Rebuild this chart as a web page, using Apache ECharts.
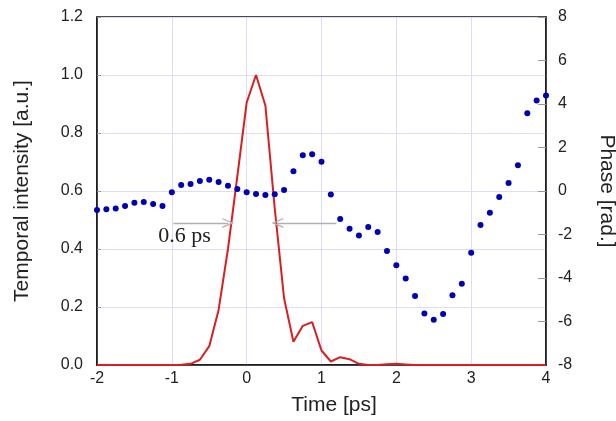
<!DOCTYPE html>
<html><head><meta charset="utf-8">
<script src="https://cdn.jsdelivr.net/npm/echarts@6.0.0/dist/echarts.min.js"></script>
<style>html,body{margin:0;padding:0;background:#fff}#c{width:616px;height:421px}</style>
</head><body><div id="c"></div>
<script>
const time = [-2,-1.875,-1.75,-1.625,-1.5,-1.375,-1.25,-1.125,-1,-0.875,-0.75,-0.625,-0.5,-0.375,-0.25,-0.125,0,0.125,0.25,0.375,0.5,0.625,0.75,0.875,1,1.125,1.25,1.375,1.5,1.625,1.75,1.875,2,2.125,2.25,2.375,2.5,2.625,2.75,2.875,3,3.125,3.25,3.375,3.5,3.625,3.75,3.875,4];
const intensity = [0,0,0,0,0,0,0,0,0,0.001,0.004,0.018,0.065,0.19,0.40,0.65,0.905,1.0,0.895,0.54,0.23,0.08,0.135,0.148,0.05,0.012,0.027,0.02,0.004,0,0,0.003,0.004,0.002,0,0,0,0,0,0,0,0,0,0,0,0,0,0,0];
const phase = [-0.87,-0.84,-0.81,-0.69,-0.54,-0.51,-0.60,-0.69,-0.06,0.28,0.32,0.46,0.52,0.41,0.24,0.09,-0.06,-0.14,-0.18,-0.15,0.05,0.91,1.64,1.69,1.35,-0.16,-1.29,-1.73,-2.05,-1.66,-1.89,-2.76,-3.41,-4.02,-4.83,-5.63,-5.92,-5.65,-4.79,-4.27,-2.84,-1.56,-1.0,-0.28,0.37,1.18,3.57,4.16,4.39];
const fwhmLabel = '0.6 ps';

const chart = echarts.init(document.getElementById('c'), null, {renderer:'canvas'});
const sans = 'Liberation Sans, Arial, sans-serif';
const gridColor = '#dcdcf2';
const chevron = 'path://M0,12 L5,0 L10,12 L8.6,12 L5,3.2 L1.4,12 Z';
chart.setOption({
  animation:false,
  backgroundColor:'#fff',
  grid:{left:97, right:70, top:17, bottom:56, containLabel:false, outerBoundsMode:'none',
    show:true, borderColor:'#111', borderWidth:1.5, backgroundColor:'transparent'},
  xAxis:{type:'value', min:-2, max:4, interval:1,
    axisLine:{show:true, onZero:false, lineStyle:{color:'#111', width:1.5}},
    axisTick:{show:false},
    axisLabel:{fontFamily:sans, fontSize:16, color:'#222', margin:6},
    splitLine:{show:true, lineStyle:{color:gridColor, width:1}},
    name:'Time [ps]', nameLocation:'middle', nameGap:30,
    nameTextStyle:{fontFamily:sans, fontSize:21, color:'#222', padding:[0,0,0,25]}},
  yAxis:[
    {type:'value', min:0, max:1.2, interval:0.2, position:'left',
      axisLine:{show:true, onZero:false, lineStyle:{color:'#111', width:1.5}},
      axisTick:{show:true, inside:true, length:4, lineStyle:{color:'#999'}},
      axisLabel:{fontFamily:sans, fontSize:16, color:'#222', margin:14, formatter:v=>v.toFixed(1)},
      splitLine:{show:true, lineStyle:{color:gridColor, width:1}},
      name:'Temporal intensity [a.u.]', nameLocation:'middle', nameGap:64,
      nameTextStyle:{fontFamily:sans, fontSize:21, color:'#222'}},
    {type:'value', min:-8, max:8, interval:2, position:'right',
      axisLine:{show:true, onZero:false, lineStyle:{color:'#111', width:1.5}},
      axisTick:{show:true, inside:true, length:8, lineStyle:{color:'#999'}},
      axisLabel:{fontFamily:sans, fontSize:16, color:'#222', margin:12},
      splitLine:{show:false},
      name:'Phase [rad.]', nameLocation:'middle', nameGap:50, nameRotate:-90,
      nameTextStyle:{fontFamily:sans, fontSize:21, color:'#222'}}
  ],
  series:[
    {type:'line', yAxisIndex:0, data:time.map((t,i)=>[t,intensity[i]]),
      showSymbol:false, lineStyle:{color:'#d81f22', width:2}, itemStyle:{color:'#d81f22'}, z:3,
      markLine:{silent:true, symbol:['none', chevron], symbolSize:[10,12], animation:false,
        label:{show:false}, lineStyle:{color:'#b0b0b0', width:1.3, type:'solid'},
        data:[[{coord:[-0.98,0.49]},{coord:[-0.245,0.49]}],[{coord:[1.2,0.49]},{coord:[0.41,0.49]}]]},
      markPoint:{silent:true, symbol:'circle', symbolSize:0, animation:false,
        data:[{coord:[-0.83,0.445], value:fwhmLabel}],
        label:{show:true, position:'inside', formatter:fwhmLabel, fontFamily:'Liberation Serif, Times New Roman, serif', fontSize:22, color:'#222'}}
    },
    {type:'scatter', yAxisIndex:1, data:time.map((t,i)=>[t,phase[i]]),
      symbol:'circle', symbolSize:6, itemStyle:{color:'#0000b4', opacity:1}, z:4}
  ]
});
</script></body></html>
